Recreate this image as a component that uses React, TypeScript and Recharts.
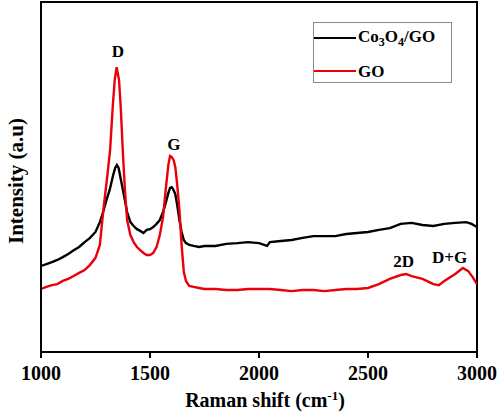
import React from "react";
import {
  LineChart,
  Line,
  XAxis,
  YAxis,
  Label,
  Legend,
  ReferenceArea,
  ReferenceDot,
} from "recharts";

// Raman shift (cm-1) and intensity (a.u.)
const shiftCo = [
  1000, 1025, 1050, 1075, 1100, 1125, 1150, 1175, 1200, 1225, 1250, 1270, 1285, 1300, 1315, 1330,
  1340, 1348, 1356, 1365, 1380, 1395, 1410, 1425, 1440, 1455, 1470, 1485, 1500, 1515, 1530, 1545,
  1560, 1572, 1584, 1592, 1600, 1608, 1616, 1625, 1635, 1645, 1655, 1665, 1680, 1700, 1725, 1750,
  1800, 1850, 1900, 1950, 2000, 2037, 2050, 2100, 2150, 2200, 2250, 2300, 2350, 2400, 2450, 2500,
  2550, 2600, 2650, 2700, 2750, 2800, 2850, 2900, 2950, 2975, 3000,
];
const intensityCo = [
  24.6, 25.1, 25.7, 26.3, 27.1, 28.0, 29.1, 30.0, 31.4, 32.6, 34.3, 37.1, 40.0, 43.4, 46.3, 50.3,
  52.6, 53.4, 52.6, 49.7, 44.9, 40.0, 37.1, 36.0, 35.1, 34.6, 34.0, 34.9, 35.1, 35.7, 36.6, 37.7,
  40.0, 42.6, 45.4, 46.9, 47.1, 46.3, 45.1, 41.9, 37.7, 34.3, 32.0, 31.1, 30.6, 30.3, 30.0, 30.3,
  30.3, 30.9, 31.1, 31.4, 31.1, 30.3, 31.4, 31.7, 32.0, 32.6, 33.1, 33.1, 33.1, 33.7, 34.0, 34.3,
  34.9, 35.4, 36.6, 36.9, 36.3, 36.0, 36.6, 36.9, 37.1, 36.6, 35.7,
];

const shiftGO = [
  1000, 1025, 1050, 1075, 1100, 1125, 1150, 1175, 1200, 1225, 1250, 1270, 1286, 1301, 1317, 1329,
  1338, 1347, 1358, 1366, 1375, 1385, 1395, 1410, 1425, 1440, 1455, 1470, 1485, 1500, 1515, 1530,
  1545, 1560, 1572, 1584, 1592, 1600, 1608, 1616, 1625, 1635, 1645, 1655, 1665, 1680, 1700, 1725,
  1750, 1800, 1850, 1900, 1950, 2000, 2050, 2100, 2150, 2200, 2250, 2300, 2350, 2400, 2450, 2500,
  2550, 2600, 2650, 2675, 2700, 2750, 2800, 2825, 2850, 2900, 2935, 2960, 2980, 3000,
];
const intensityGO = [
  18.0, 18.6, 19.1, 19.4, 20.3, 20.9, 21.7, 22.6, 23.4, 24.9, 26.9, 30.6, 40.6, 48.6, 57.7, 70.0,
  77.7, 81.4, 77.7, 69.7, 57.7, 46.3, 37.7, 33.4, 31.4, 30.0, 29.1, 28.3, 27.7, 27.7, 28.3, 30.0,
  33.4, 38.6, 46.3, 53.4, 56.0, 55.7, 54.9, 52.9, 47.7, 40.6, 30.6, 22.9, 20.3, 18.9, 18.6, 18.3,
  18.0, 18.0, 17.7, 17.7, 18.0, 18.0, 18.0, 17.7, 17.4, 17.7, 17.7, 17.4, 17.7, 18.0, 18.0, 18.3,
  19.4, 20.9, 22.0, 22.3, 21.7, 20.9, 19.4, 19.1, 20.3, 22.3, 24.0, 23.1, 21.4, 19.4,
];

const xTicks = [1000, 1500, 2000, 2500, 3000];

// peak annotations: label, anchor shift, anchor intensity
const peakNames = ["D", "G", "2D", "D+G"];
const peakShift = [1353, 1610, 2663, 2874];
const peakLevel = [86.0, 59.3, 26.0, 27.1];

const FONT = '"Liberation Serif", "Times New Roman", serif';

const coData = shiftCo.map((s, i) => ({ shift: s, intensity: intensityCo[i] }));
const goData = shiftGO.map((s, i) => ({ shift: s, intensity: intensityGO[i] }));

const renderXLabel = (props: any) => {
  const vb = props.viewBox || { x: 41, y: 352, width: 436, height: 62 };
  return (
    <text
      x={vb.x + vb.width / 2 + 6}
      y={vb.y + 55}
      textAnchor="middle"
      fontFamily={FONT}
      fontWeight="bold"
      fontSize={20}
      fill="#000"
    >
      Raman shift (cm
      <tspan baselineShift="super" fontSize={13}>-1</tspan>
      <tspan>)</tspan>
    </text>
  );
};

const renderYLabel = () => {
  const x = 23;
  const y = 181;
  return (
    <text
      x={x}
      y={y}
      transform={`rotate(-90, ${x}, ${y})`}
      textAnchor="middle"
      fontFamily={FONT}
      fontWeight="bold"
      fontSize={21}
      fill="#000"
    >
      Intensity (a.u)
    </text>
  );
};

const renderLegend = () => {
  const row: React.CSSProperties = {
    position: "absolute",
    left: 0,
    display: "flex",
    alignItems: "center",
    height: 24,
  };
  const swatch = (color: string): React.CSSProperties => ({
    width: 42,
    height: 2.5,
    background: color,
    marginRight: 2,
  });
  return (
    <div
      style={{
        position: "relative",
        width: 139,
        height: 61,
        border: "1px solid #8a8a8a",
        boxSizing: "border-box",
        background: "#fff",
        fontFamily: FONT,
        fontWeight: "bold",
        fontSize: 17,
        color: "#000",
        lineHeight: 1,
      }}
    >
      <div style={{ ...row, top: 3 }}>
        <div style={swatch("#000")} />
        <span>
          Co<sub style={{ fontSize: 12 }}>3</sub>O<sub style={{ fontSize: 12 }}>4</sub>/GO
        </span>
      </div>
      <div style={{ ...row, top: 36 }}>
        <div style={swatch("#e8000b")} />
        <span>GO</span>
      </div>
    </div>
  );
};

export default function App() {
  return (
    <div style={{ position: "absolute", left: 0, top: 0, width: 500, height: 414, background: "#fff" }}>
      <LineChart width={500} height={414} margin={{ top: 2, right: 23, bottom: 0, left: 0 }}>
        <XAxis
          dataKey="shift"
          type="number"
          domain={[1000, 3000]}
          ticks={xTicks}
          allowDataOverflow
          height={62}
          axisLine={{ stroke: "#000", strokeWidth: 2 }}
          tickLine={{ stroke: "#000", strokeWidth: 2 }}
          tickSize={6}
          tickMargin={8}
          tick={{ fontSize: 20, fontWeight: "bold", fontFamily: FONT, fill: "#000" }}
        >
          <Label content={renderXLabel} />
        </XAxis>
        <YAxis
          type="number"
          domain={[0, 100]}
          allowDataOverflow
          width={41}
          tick={false}
          tickLine={false}
          axisLine={{ stroke: "#000", strokeWidth: 2 }}
        >
          <Label content={renderYLabel} />
        </YAxis>
        <ReferenceArea
          x1={1000}
          x2={3000}
          y1={0}
          y2={100}
          fill="none"
          stroke="#000"
          strokeWidth={2}
          ifOverflow="visible"
        />
        <Legend
          layout="horizontal"
          align="center"
          verticalAlign="middle"
          content={renderLegend}
          wrapperStyle={{ position: "absolute", left: 313, top: 22, width: 139, height: 61 }}
        />
        <Line
          data={coData}
          dataKey="intensity"
          name="Co3O4/GO"
          type="linear"
          stroke="#000"
          strokeWidth={2.4}
          dot={false}
          isAnimationActive={false}
        />
        <Line
          data={goData}
          dataKey="intensity"
          name="GO"
          type="linear"
          stroke="#e8000b"
          strokeWidth={2.4}
          dot={false}
          isAnimationActive={false}
        />
        {peakNames.map((name, i) => (
          <ReferenceDot
            key={name}
            x={peakShift[i]}
            y={peakLevel[i]}
            r={0}
            stroke="none"
            fill="none"
            ifOverflow="visible"
            label={{
              value: name,
              position: "center",
              fontFamily: FONT,
              fontWeight: "bold",
              fontSize: 17,
              fill: "#000",
            }}
          />
        ))}
      </LineChart>
    </div>
  );
}
